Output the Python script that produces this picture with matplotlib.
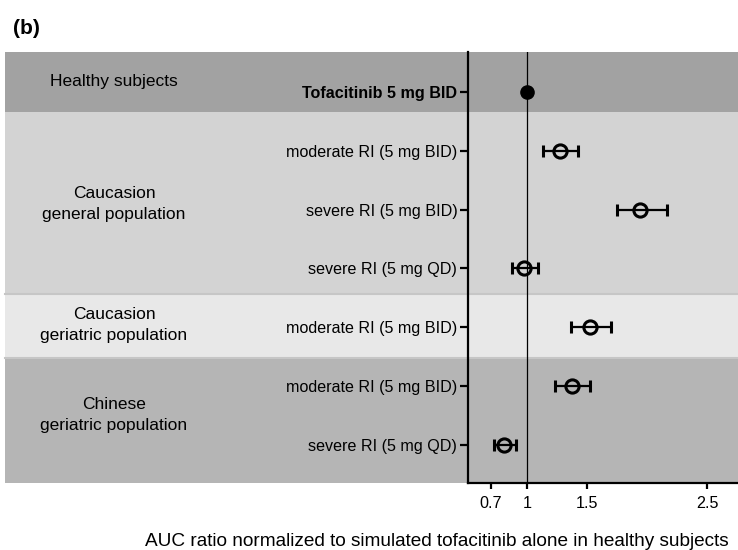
import matplotlib
matplotlib.use("Agg")
import matplotlib.pyplot as plt
import matplotlib.transforms as mtransforms
import numpy as np

plt.rcParams["font.family"] = ["Liberation Sans", "DejaVu Sans"]

# rows from top to bottom
row_labels = ["Tofacitinib 5 mg BID",
              "moderate RI (5 mg BID)",
              "severe RI (5 mg BID)",
              "severe RI (5 mg QD)",
              "moderate RI (5 mg BID)",
              "moderate RI (5 mg BID)",
              "severe RI (5 mg QD)"]
ratio = [1.0, 1.275, 1.94, 0.978, 1.524, 1.372, 0.811]
lower = [np.nan, 1.136, 1.746, 0.878, 1.366, 1.235, 0.725]
upper = [np.nan, 1.422, 2.167, 1.094, 1.699, 1.522, 0.911]

group_names = ["Healthy subjects",
               "Caucasion\ngeneral population",
               "Caucasion\ngeriatric population",
               "Chinese\ngeriatric population"]
group_label_row = [-0.18, 1.91, 3.97, 5.49]
group_edges = [-0.69, 0.33, 3.44, 4.53, 6.66]
group_colors = ["#a2a2a2", "#d3d3d3", "#e8e8e8", "#b5b5b5"]

xticks = [0.7, 1, 1.5, 2.5]
xtick_labels = ["0.7", "1", "1.5", "2.5"]

fig = plt.figure(figsize=(7.38, 5.5), dpi=100)
ax = fig.add_axes([467.7 / 738, 1 - 483.3 / 550, 1 - 467.7 / 738, (483.3 - 51.7) / 550])

ypos = np.arange(len(row_labels))
ax.set_xlim(0.507, 2.755)
ax.set_ylim(group_edges[-1], group_edges[0])

# background bands stretched over the label area
x0 = (5 - 467.7) / (738 - 467.7)
for i in range(len(group_names)):
    ax.axhspan(group_edges[i], group_edges[i + 1], xmin=x0, xmax=1,
               color=group_colors[i], lw=0, clip_on=False, zorder=0)
for e in group_edges[2:4]:
    ax.axhline(e, xmin=x0, xmax=1, color="#c6c6c6", lw=1.5, clip_on=False, zorder=0.5)

ax.axvline(1, color="black", lw=0.9, zorder=1)

ratio = np.array(ratio)
lower = np.array(lower)
upper = np.array(upper)
err = np.vstack([ratio - lower, upper - ratio])
ax.errorbar(ratio[1:], ypos[1:], xerr=err[:, 1:], fmt="o", color="black",
            mfc="none", mec="black", ms=9.5, mew=2.2, elinewidth=1.6,
            capsize=4.5, capthick=1.6, zorder=3)
ax.plot(ratio[:1], ypos[:1], "o", color="black", ms=9.5, zorder=3)

ax.set_yticks(ypos)
ax.set_yticklabels(row_labels, fontsize=11.6)
ax.get_yticklabels()[0].set_fontweight("bold")
ax.set_xticks(xticks)
ax.set_xticklabels(xtick_labels, fontsize=11.6)
ax.tick_params(axis="y", length=6, width=1.6, pad=1.5)
ax.tick_params(axis="x", length=4.5, width=1.6, pad=5)

for s in ["top", "right"]:
    ax.spines[s].set_visible(False)
for s in ["left", "bottom"]:
    ax.spines[s].set_linewidth(1.6)
    ax.spines[s].set_zorder(4)

trans = mtransforms.blended_transform_factory(fig.transFigure, ax.transData)
for name, r in zip(group_names, group_label_row):
    ax.text(114 / 738, r, name, transform=trans, ha="center", va="center",
            fontsize=12.5, linespacing=1.5, clip_on=False)

fig.text(13 / 738, 1 - 29 / 550, "(b)", fontsize=15, fontweight="bold",
         ha="left", va="center")
fig.text(437 / 738, 1 - 542 / 550,
         "AUC ratio normalized to simulated tofacitinib alone in healthy subjects",
         fontsize=13.7, ha="center", va="center")

fig.savefig("out.png", dpi=100)
